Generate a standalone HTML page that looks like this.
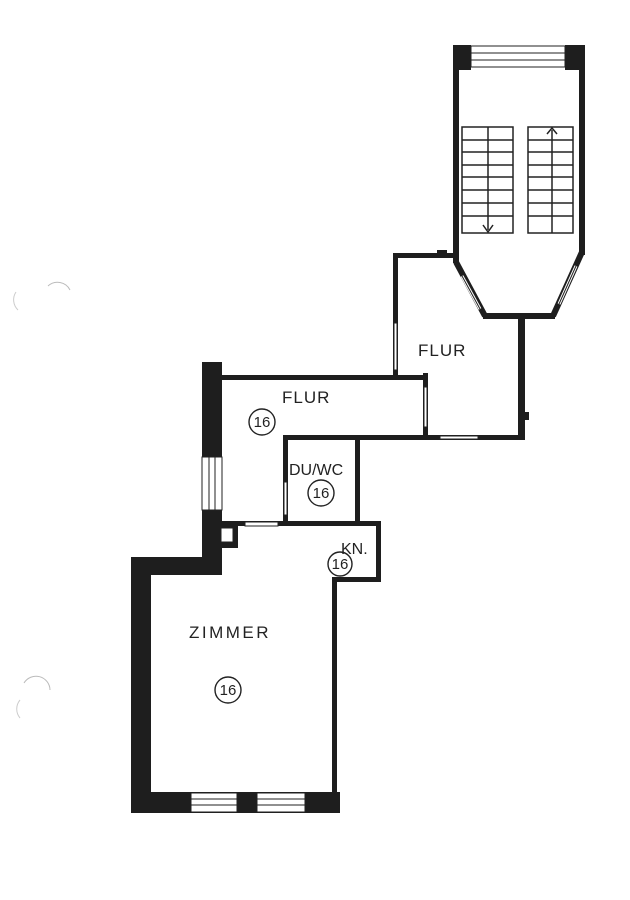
<!DOCTYPE html>
<html><head><meta charset="utf-8"><style>
html,body{margin:0;padding:0;background:#fff;}
svg{display:block;}
text{font-family:"Liberation Sans",sans-serif;fill:#222;}
</style></head><body>
<svg width="630" height="900" viewBox="0 0 630 900" xmlns="http://www.w3.org/2000/svg">
<rect width="630" height="900" fill="#fff"/>
<path d="M48 286 A14 14 0 0 1 70 290" fill="none" stroke="#bbb" stroke-width="1"/>
<path d="M16 292 A14 14 0 0 0 18 310" fill="none" stroke="#ccc" stroke-width="1"/>
<path d="M24 683 A14 14 0 0 1 50 690" fill="none" stroke="#bbb" stroke-width="1"/>
<path d="M20 700 A14 14 0 0 0 20 718" fill="none" stroke="#ccc" stroke-width="1"/>

<g fill="#1e1e1e">
<rect x="131" y="557" width="20" height="256"/>
<rect x="131" y="557" width="90" height="18"/>
<rect x="131" y="792" width="209" height="21"/>
<rect x="332" y="578" width="5" height="216"/>
<rect x="202" y="362" width="20" height="213"/>
<rect x="216" y="522" width="22" height="26"/>
<rect x="222" y="375" width="206" height="5"/>
<rect x="423" y="373" width="5" height="67"/>
<rect x="283" y="435" width="145" height="5"/>
<rect x="283" y="435" width="5" height="90"/>
<rect x="355" y="435" width="5" height="90"/>
<rect x="222" y="521" width="159" height="5"/>
<rect x="376" y="521" width="5" height="61"/>
<rect x="332" y="577" width="49" height="5"/>
<rect x="393" y="253" width="5" height="122"/>
<rect x="393" y="253" width="64" height="5"/>
<rect x="428" y="435" width="97" height="5"/>
<rect x="518" y="315" width="7" height="125"/>
<rect x="525" y="412" width="4" height="8"/>
<rect x="437" y="250" width="10" height="4"/>
<rect x="453" y="45" width="6" height="218"/>
<rect x="579" y="45" width="6" height="210"/>
<rect x="453" y="45" width="18" height="25"/>
<rect x="565" y="45" width="20" height="25"/>
<rect x="483" y="313" width="72" height="6"/>
</g>
<g fill="none" stroke="#1e1e1e" stroke-width="6">
<line x1="456" y1="262" x2="485" y2="316"/>
<line x1="582" y1="252" x2="553" y2="316"/>
</g>
<g fill="#fff" stroke="#222" stroke-width="1">
<rect x="471" y="46" width="94" height="21"/>
<line x1="471" y1="53" x2="565" y2="53"/><line x1="471" y1="60" x2="565" y2="60"/>
<rect x="202" y="457" width="20" height="53"/>
<line x1="209" y1="457" x2="209" y2="510"/><line x1="215" y1="457" x2="215" y2="510"/>
<rect x="191" y="793" width="46" height="19"/>
<line x1="191" y1="799" x2="237" y2="799"/><line x1="191" y1="805" x2="237" y2="805"/>
<rect x="257" y="793" width="48" height="19"/>
<line x1="257" y1="799" x2="305" y2="799"/><line x1="257" y1="805" x2="305" y2="805"/>
<rect x="245" y="522" width="33" height="4"/>
<rect x="284" y="482" width="3" height="33"/>
<rect x="394" y="323" width="3" height="47"/>
<rect x="424" y="387" width="3" height="40"/>
<rect x="440" y="436" width="38" height="3"/>
<rect x="221" y="528" width="12" height="14"/>
</g>
<g stroke="#fff" stroke-width="3" fill="none">
<line x1="462" y1="276" x2="480" y2="309"/>
<line x1="576" y1="266" x2="559" y2="304"/>
</g>
<g stroke="#222" stroke-width="1" fill="none">
<line x1="462" y1="276" x2="480" y2="309"/>
<line x1="576" y1="266" x2="559" y2="304"/>
</g>
<g stroke="#222" stroke-width="1.5" fill="none">
<rect x="462" y="127" width="51" height="106"/>
<rect x="528" y="127" width="45" height="106"/>
<line x1="488" y1="127" x2="488" y2="230"/>
<line x1="552" y1="130" x2="552" y2="233"/>
<polyline points="483,225 488,232 493,225"/>
<polyline points="547,134 552,128 557,134"/>
<line x1="462" y1="140" x2="513" y2="140"/><line x1="528" y1="140" x2="573" y2="140"/>
<line x1="462" y1="152" x2="513" y2="152"/><line x1="528" y1="152" x2="573" y2="152"/>
<line x1="462" y1="165" x2="513" y2="165"/><line x1="528" y1="165" x2="573" y2="165"/>
<line x1="462" y1="177" x2="513" y2="177"/><line x1="528" y1="177" x2="573" y2="177"/>
<line x1="462" y1="190" x2="513" y2="190"/><line x1="528" y1="190" x2="573" y2="190"/>
<line x1="462" y1="203" x2="513" y2="203"/><line x1="528" y1="203" x2="573" y2="203"/>
<line x1="462" y1="216" x2="513" y2="216"/><line x1="528" y1="216" x2="573" y2="216"/>
</g>
<g font-size="17" letter-spacing="1">
<text x="418" y="356">FLUR</text>
<text x="282" y="403">FLUR</text>
<text x="289" y="475" letter-spacing="0" font-size="16">DU/WC</text>
<text x="341" y="554" letter-spacing="0" font-size="16">KN.</text>
<text x="189" y="638" letter-spacing="2.5">ZIMMER</text>
</g>
<g fill="none" stroke="#222" stroke-width="1.4">
<circle cx="262" cy="422" r="13"/>
<circle cx="321" cy="493" r="13"/>
<circle cx="340" cy="564" r="12"/>
<circle cx="228" cy="690" r="13"/>
</g>
<g font-size="15" text-anchor="middle">
<text x="262" y="427">16</text>
<text x="321" y="498">16</text>
<text x="340" y="569">16</text>
<text x="228" y="695">16</text>
</g>
</svg>
</body></html>
